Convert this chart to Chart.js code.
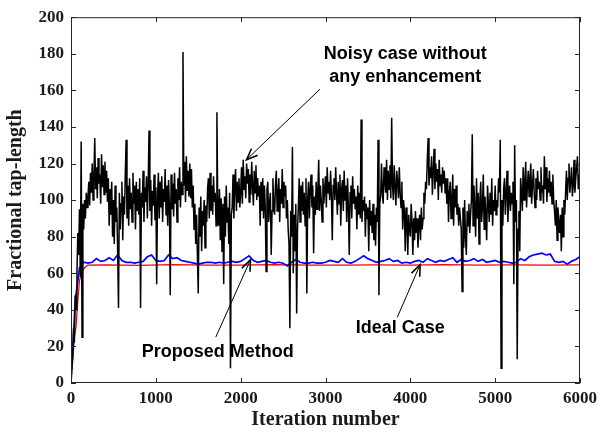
<!DOCTYPE html>
<html lang="en">
<head>
  <meta charset="UTF-8">
  <title>Fractional tap-length</title>
  <script src="https://cdn.jsdelivr.net/npm/chart.js"></script>
  <style>
    html, body { margin: 0; padding: 0; background: #fff; }
  </style>
</head>
<body>
  <canvas id="myChart" width="602" height="432"></canvas>

  <script>
    // Noisy case without any enhancement, one sample every 10 iterations
    // (each row below covers 200 iterations)
    const noisyStep = 10;
    const noisyCase = [
      8, 10, 14, 30, 22, 48, 40, 60, 82, 70, 95, 58, 132, 25, 98, 84, 100, 90, 104, 96,
      102, 110, 97, 115, 104, 120, 100, 112, 134, 106, 118, 101, 123, 109, 114, 98, 125, 107, 119, 103,
      121, 104, 116, 99, 112, 86, 106, 92, 110, 80, 100, 76, 108, 88, 96, 72, 41, 104, 84, 98,
      110, 78, 102, 92, 114, 133, 90, 108, 86, 112, 95, 104, 88, 115, 98, 108, 84, 110, 94, 106,
      92, 112, 41, 104, 96, 116, 88, 107, 99, 113, 90, 109, 138, 94, 111, 86, 105, 97, 114, 89,
      107, 54, 102, 115, 90, 110, 96, 113, 88, 106, 99, 117, 92, 108, 86, 111, 97, 48, 114, 95,
      109, 91, 115, 98, 106, 88, 112, 100, 118, 96, 110, 103, 181, 108, 121, 99, 124, 105, 116, 102,
      120, 101, 117, 96, 108, 84, 98, 76, 92, 70, 49, 96, 80, 102, 72, 94, 86, 100, 74, 97,
      88, 106, 112, 90, 115, 94, 108, 92, 113, 99, 104, 86, 148, 96, 86, 106, 78, 101, 72, 98,
      54, 102, 80, 108, 88, 96, 76, 104, 8, 92, 96, 114, 90, 108, 117, 94, 110, 99, 112, 96,
      104, 118, 98, 122, 106, 113, 101, 120, 109, 117, 99, 114, 103, 121, 107, 97, 116, 104, 119, 100,
      112, 102, 108, 86, 110, 94, 112, 90, 108, 96, 61, 106, 110, 88, 98, 104, 70, 94, 112, 96,
      92, 108, 116, 94, 103, 112, 88, 106, 98, 117, 96, 110, 102, 108, 90, 100, 84, 76, 30, 94,
      80, 129, 60, 92, 72, 98, 38, 84, 96, 112, 88, 108, 94, 110, 92, 104, 86, 112, 49, 100,
      110, 90, 106, 114, 96, 108, 71, 102, 92, 110, 95, 106, 122, 94, 108, 100, 88, 112, 98, 106,
      113, 96, 118, 104, 110, 100, 116, 102, 78, 108, 112, 100, 118, 104, 92, 110, 98, 114, 86, 106,
      111, 94, 116, 100, 108, 88, 112, 96, 70, 104, 108, 90, 113, 98, 106, 95, 102, 84, 108, 92,
      104, 90, 144, 88, 100, 94, 102, 80, 98, 90, 96, 72, 100, 86, 94, 82, 98, 78, 92, 75,
      96, 88, 133, 48, 98, 102, 120, 104, 98, 118, 110, 104, 122, 100, 116, 106, 119, 101, 145, 108,
      100, 119, 107, 97, 116, 110, 101, 118, 104, 96, 110, 84, 100, 94, 72, 96, 88, 70, 92, 84,
      80, 98, 88, 70, 90, 78, 94, 82, 90, 74, 86, 92, 78, 96, 84, 90, 104, 98, 110, 106,
      122, 134, 108, 118, 112, 124, 103, 116, 128, 106, 120, 110, 117, 100, 122, 108, 114, 104, 118, 109,
      116, 104, 112, 98, 112, 88, 104, 110, 90, 100, 114, 86, 106, 96, 108, 92, 98, 86, 96, 90,
      84, 50, 96, 74, 100, 80, 70, 94, 86, 98, 82, 92, 100, 136, 86, 108, 96, 80, 112, 90,
      104, 76, 100, 110, 88, 96, 114, 84, 102, 92, 78, 108, 98, 88, 104, 92, 112, 86, 100, 94,
      108, 92, 100, 96, 112, 104, 133, 8, 100, 86, 106, 112, 92, 104, 116, 88, 100, 108, 94, 104,
      98, 110, 54, 130, 88, 100, 13, 84, 94, 72, 112, 104, 94, 118, 100, 110, 121, 96, 108, 116,
      102, 112, 120, 98, 108, 117, 104, 96, 112, 100, 116, 106, 110, 100, 118, 104, 108, 98, 124, 106,
      118, 99, 112, 104, 116, 102, 110, 98, 114, 100, 94, 86, 100, 78, 96, 88, 82, 92, 72, 96,
      80, 100, 92, 104, 116, 100, 112, 120, 104, 110, 118, 102, 108, 122, 104, 112, 118, 124, 106, 114,
      106
    ];

    // Proposed method, one sample every 50 iterations
    const proposedStep = 50;
    const proposedMethod = [
      0, 45, 63, 66, 65.5, 66, 68, 66.5, 67, 68.5, 67, 70, 67, 66, 66, 65.5, 66, 66.5, 69, 70,
      67, 66.5, 67, 70, 68, 68.5, 67, 66.5, 66, 65.5, 65, 65.5, 66, 66, 65.5, 66, 65.5, 66, 66.5, 66,
      66.5, 68, 69.5, 67, 66, 66.5, 67, 66, 65.5, 66, 65.5, 64, 66, 67.5, 66, 65.5, 65.5, 66, 65.5, 65.5,
      66, 67, 66.5, 66, 68, 66, 65.5, 66.5, 68, 69.5, 68, 67, 66, 66.5, 67, 68, 66.5, 67, 65.5, 66,
      65.5, 66.5, 67, 66, 68, 67, 66, 67, 66.5, 67.5, 68.5, 66, 67.5, 66.5, 67, 68, 66.5, 67.5, 66, 66.5,
      67, 66, 66.5, 66, 65.5, 66, 68, 67, 69, 70, 70.5, 71, 70, 70.5, 66.5, 66, 66.5, 65, 66.5, 67.5,
      69
    ];

    // Ideal case
    const idealIter = [0, 20, 40, 60, 80, 100, 130, 160, 200, 400, 800, 1200, 1600, 2000, 2400, 2800,
      3200, 3600, 4000, 4400, 4800, 5200, 5600, 6000];
    const idealCase = [0, 12, 25, 31, 45, 56, 61, 63, 64.5, 64.6, 64.3, 64.7, 64.5, 64.4, 64.7, 64.5,
      64.4, 64.6, 64.5, 64.7, 64.4, 64.6, 64.5, 64.6];

    const xTicks = [0, 1000, 2000, 3000, 4000, 5000, 6000];
    const yTicks = [0, 20, 40, 60, 80, 100, 120, 140, 160, 180, 200];

    // Annotation texts with their anchor and arrow end points (iteration, tap-length)
    const notes = [
      { lines: ['Noisy case without', 'any enhancement'], at: [3940, 179.6], from: [2934, 160.6], to: [2069, 122.1] },
      { lines: ['Proposed Method'], at: [1730, 17.0], from: [1707, 25.1], to: [2116, 67.4] },
      { lines: ['Ideal Case'], at: [3881, 30.0], from: [3846, 35.9], to: [4115, 64.7] }
    ];

    const toPoints = (values, step) => values.map((v, i) => ({ x: i * step, y: v }));

    const serif = "'Liberation Serif', 'Times New Roman', serif";

    // box round the plot with inward ticks on all four sides
    const frameTicks = {
      id: 'frameTicks',
      afterDatasetsDraw(chart) {
        const { ctx, chartArea: a, scales: { x, y } } = chart;
        const len = 5;
        ctx.save();
        ctx.strokeStyle = '#262626';
        ctx.lineWidth = 1;
        ctx.strokeRect(a.left + 0.5, a.top + 0.5, a.right - a.left - 1, a.bottom - a.top - 1);
        ctx.beginPath();
        xTicks.forEach(t => {
          const px = Math.round(x.getPixelForValue(t)) + 0.5;
          ctx.moveTo(px, a.bottom); ctx.lineTo(px, a.bottom - len);
          ctx.moveTo(px, a.top); ctx.lineTo(px, a.top + len);
        });
        yTicks.forEach(t => {
          const py = Math.round(y.getPixelForValue(t)) + 0.5;
          ctx.moveTo(a.left, py); ctx.lineTo(a.left + len, py);
          ctx.moveTo(a.right, py); ctx.lineTo(a.right - len, py);
        });
        ctx.stroke();
        ctx.restore();
      }
    };

    // labels with arrows pointing at the curves
    const arrowNotes = {
      id: 'arrowNotes',
      afterDraw(chart) {
        const { ctx, scales: { x, y } } = chart;
        ctx.save();
        ctx.fillStyle = '#000';
        ctx.strokeStyle = '#000';
        ctx.font = "bold 18px 'Liberation Sans', Arial, sans-serif";
        ctx.textAlign = 'center';
        ctx.textBaseline = 'middle';
        notes.forEach(n => {
          const cx = x.getPixelForValue(n.at[0]);
          const cy = y.getPixelForValue(n.at[1]);
          n.lines.forEach((s, i) => ctx.fillText(s, cx, cy + i * 23));

          const x0 = x.getPixelForValue(n.from[0]), y0 = y.getPixelForValue(n.from[1]);
          const x1 = x.getPixelForValue(n.to[0]), y1 = y.getPixelForValue(n.to[1]);
          ctx.lineWidth = 1;
          ctx.beginPath();
          ctx.moveTo(x0, y0); ctx.lineTo(x1, y1);
          ctx.stroke();
          const ang = Math.atan2(y1 - y0, x1 - x0);
          const head = 12, spread = 0.38;
          ctx.lineWidth = 1.6;
          ctx.beginPath();
          ctx.moveTo(x1 - head * Math.cos(ang - spread), y1 - head * Math.sin(ang - spread));
          ctx.lineTo(x1, y1);
          ctx.lineTo(x1 - head * Math.cos(ang + spread), y1 - head * Math.sin(ang + spread));
          ctx.stroke();
        });
        ctx.restore();
      }
    };

    const ctx = document.getElementById('myChart').getContext('2d');
    new Chart(ctx, {
      type: 'line',
      data: {
        datasets: [
          {
            label: 'Noisy case without any enhancement',
            data: toPoints(noisyCase, noisyStep),
            borderColor: '#000000',
            borderWidth: 1.5,
            order: 0
          },
          {
            label: 'Proposed Method',
            data: toPoints(proposedMethod, proposedStep),
            borderColor: '#0000ff',
            borderWidth: 1.7,
            order: 1
          },
          {
            label: 'Ideal Case',
            data: idealIter.map((it, i) => ({ x: it, y: idealCase[i] })),
            borderColor: '#ff0000',
            borderWidth: 1.3,
            order: 2
          }
        ]
      },
      options: {
        responsive: false,
        animation: false,
        events: [],
        elements: { point: { radius: 0 }, line: { tension: 0, fill: false } },
        layout: { padding: { top: 14, right: 18, left: 0, bottom: 0 } },
        plugins: { legend: { display: false }, tooltip: { enabled: false } },
        scales: {
          x: {
            type: 'linear',
            min: 0,
            max: 6000,
            afterFit(s) { s.height = 49; },
            afterBuildTicks(s) { s.ticks = xTicks.map(v => ({ value: v })); },
            grid: { display: false, drawTicks: false },
            border: { display: false },
            ticks: { color: '#1a1a1a', padding: 5, maxRotation: 0, callback: v => String(v),
              font: { family: serif, size: 17, weight: 'bold' } },
            title: { display: true, text: 'Iteration number', color: '#1a1a1a', padding: { top: 0, bottom: 0 },
              font: { family: serif, size: 20, weight: 'bold' } }
          },
          y: {
            min: 0,
            max: 200,
            afterFit(s) { s.width = 71; },
            afterBuildTicks(s) { s.ticks = yTicks.map(v => ({ value: v })); },
            grid: { display: false, drawTicks: false },
            border: { display: false },
            ticks: { color: '#1a1a1a', padding: 7, callback: v => String(v),
              font: { family: serif, size: 17, weight: 'bold' } },
            title: { display: true, text: 'Fractional tap-length', color: '#1a1a1a', padding: { top: 4, bottom: 0 },
              font: { family: serif, size: 20, weight: 'bold' } }
          }
        }
      },
      plugins: [frameTicks, arrowNotes]
    });
  </script>
</body>
</html>
